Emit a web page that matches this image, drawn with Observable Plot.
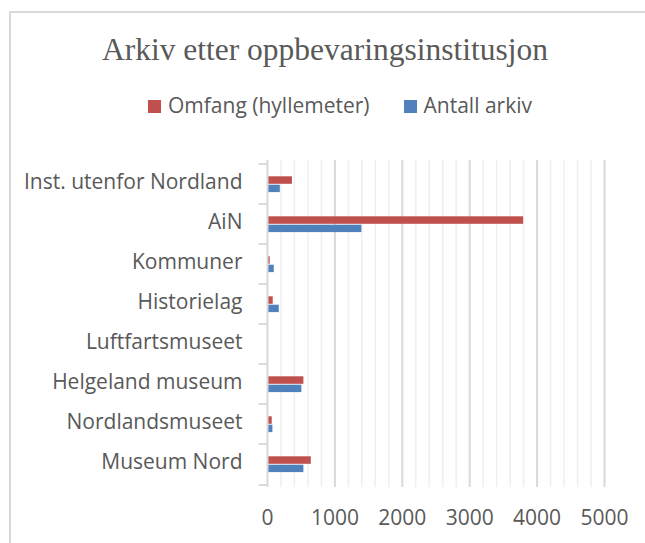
<!DOCTYPE html>
<html>
<head>
<meta charset="utf-8">
<script src="https://cdn.jsdelivr.net/npm/d3@7"></script>
<script src="https://cdn.jsdelivr.net/npm/@observablehq/plot@0.6"></script>
<style>
  html, body { margin: 0; padding: 0; background: #fff; }
  body { width: 645px; height: 543px; position: relative; overflow: hidden; }
  #frame { position: absolute; left: 9px; top: 11px; width: 700px; height: 600px; border: 2px solid #d9d9d9; box-sizing: border-box; }
  #title { position: absolute; left: 0; width: 650px; top: 32px; text-align: center; font-family: "Liberation Serif", serif; font-size: 31.5px; color: #595959; white-space: nowrap; }
  #legend { position: absolute; top: 91px; left: 148px; font-family: "Open Sans", sans-serif; font-size: 21px; color: #595959; white-space: nowrap; }
  .sw { display: inline-block; width: 13px; height: 13px; margin-right: 7px; vertical-align: 0px; }
  .item { display: inline-block; }
  #chart { position: absolute; left: 0; top: 140px; line-height: 0; }
  #chart svg { display: block; }
</style>
</head>
<body>
<div id="frame"></div>
<div id="title">Arkiv etter oppbevaringsinstitusjon</div>
<div id="legend"></div>
<div id="chart"></div>
<script>
const categories = ["Inst. utenfor Nordland", "AiN", "Kommuner", "Historielag", "Luftfartsmuseet", "Helgeland museum", "Nordlandsmuseet", "Museum Nord"];
const omfang = [370, 3800, 40, 85, 5, 540, 70, 650];
const antall = [190, 1400, 100, 175, 3, 510, 80, 540];
const seriesNames = ["Omfang (hyllemeter)", "Antall arkiv"];
const seriesColors = ["#C0504D", "#4F81BD"];
const xTicks = [0, 1000, 2000, 3000, 4000, 5000];

const rows = [];
categories.forEach((c, i) => {
  rows.push({cat: c, series: seriesNames[0], value: omfang[i]});
  rows.push({cat: c, series: seriesNames[1], value: antall[i]});
});

const legend = document.getElementById("legend");
seriesNames.forEach((s, i) => {
  const it = document.createElement("span");
  it.className = "item";
  it.style.marginRight = i === 0 ? "34px" : "0";
  it.innerHTML = `<span class="sw" style="background:${seriesColors[i]}"></span>${s}`;
  legend.appendChild(it);
});

const step = 40.9;
const chart = Plot.plot({
  width: 645,
  height: 392,
  marginLeft: 267,
  marginRight: 41,
  marginTop: 20,
  marginBottom: 45,
  style: { fontFamily: "Open Sans, sans-serif", fontSize: "21px", color: "#595959", background: "transparent" },
  x: { domain: [0, 5000], ticks: xTicks, tickFormat: d => String(d), label: null },
  y: { domain: categories, padding: 0, label: null },
  marks: [
    Plot.ruleX(d3.range(200, 5001, 200).filter(v => v % 1000 !== 0), { stroke: "#efefef", strokeWidth: 1.5 }),
    Plot.ruleX(xTicks.filter(v => v > 0), { stroke: "#d9d9d9", strokeWidth: 2 }),
    Plot.barX(rows.filter(r => r.series === seriesNames[0]), { y: "cat", x: "value", fill: seriesColors[0], insetTop: 12.3, insetBottom: 20.2 }),
    Plot.barX(rows.filter(r => r.series === seriesNames[1]), { y: "cat", x: "value", fill: seriesColors[1], insetTop: 20.7, insetBottom: 11.9 }),
    Plot.ruleY(categories, { y: d => d, x1: -125, x2: 0, dy: -step / 2, stroke: "#d9d9d9", strokeWidth: 2 }),
    Plot.ruleY(categories.slice(-1), { y: d => d, x1: -125, x2: 0, dy: step / 2, stroke: "#d9d9d9", strokeWidth: 2 }),
    Plot.ruleX([0], { stroke: "#d9d9d9", strokeWidth: 2 }),
    Plot.axisX({ ticks: xTicks, tickSize: 0, tickPadding: 23, tickFormat: d => String(d), fill: "#595959", label: null }),
    Plot.axisY({ tickSize: 0, tickPadding: 25, dy: -2, fill: "#595959", label: null })
  ]
});
document.getElementById("chart").appendChild(chart);
</script>
</body>
</html>
